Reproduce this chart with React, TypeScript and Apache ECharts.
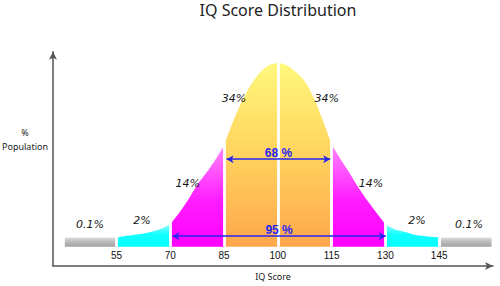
import React, { useEffect, useRef } from 'react';
import * as echarts from 'echarts';

const chartTitle = 'IQ Score Distribution';
const xAxisName = 'IQ Score';
const yAxisName = '%\nPopulation';

const xTicks = [55, 70, 85, 100, 115, 130, 145];

// Curve (relative height, peak = 100)
const curveX = [55, 57.5, 60, 62.5, 65, 67.5, 70, 72.5, 75, 77.5, 80, 82.5, 85, 87.5, 90, 92.5, 95, 97.5, 100,
  102.5, 105, 107.5, 110, 112.5, 115, 117.5, 120, 122.5, 125, 127.5, 130, 132.5, 135, 137.5, 140, 142.5, 145];
const curveY = [5.0, 5.8, 6.5, 7.2, 8.3, 9.7, 12.2, 18.5, 25.5, 33.5, 40, 47, 55, 68, 79, 88, 94.5, 98.6, 100,
  98.6, 95, 90, 81, 69, 55.5, 47.5, 40, 32, 25, 18.5, 12.2, 9.5, 8.2, 6.8, 5.9, 5.4, 5.0];

// Tails (0.1%) as flat bars
const tailLeft = [40.6, 55];
const tailRight = [145, 159.6];
const tailLevel = 5.0;

// Bands of the curve
const bandNames = ['cyanL', 'magentaL', 'orangeL', 'orangeR', 'magentaR', 'cyanR'];
const bandFrom = [55, 70, 85, 100, 115, 130];
const bandTo = [70, 85, 100, 115, 130, 145];

// Percent labels
const pctText = ['0.1%', '2%', '14%', '34%', '34%', '14%', '2%', '0.1%'];
const pctX = [47.6, 62.1, 74.9, 87.8, 113.6, 126.0, 138.8, 153.3];
const pctY = [11.9, 14.5, 34.6, 80.5, 80.5, 34.6, 14.5, 11.9];

// Range arrows
const rangeText = ['68 %', '95 %'];
const rangeFrom = [85.7, 70.6];
const rangeTo = [114.6, 130.1];
const rangeY = [47.6, 5.7];

const grad = (stops: [number, string][]) =>
  new echarts.graphic.LinearGradient(0, 0, 0, 1, stops.map(([offset, color]) => ({ offset, color })));

const bandColors: Record<string, [number, string][]> = {
  gray: [[0, '#e0e0e0'], [0.35, '#c2c2c2'], [1, '#a2a2a2']],
  cyan: [[0, '#8afcff'], [0.45, '#14ffff'], [1, '#00ffff']],
  magenta: [[0, '#ff86ff'], [0.55, '#ff1cff'], [1, '#ff00ff']],
  orange: [[0, '#fff87c'], [0.5, '#ffd35e'], [1, '#ffa64c']],
};

export default function App() {
  const ref = useRef<HTMLDivElement>(null);
  useEffect(() => {
    if (!ref.current) return;
    const chart = echarts.init(ref.current, undefined, { renderer: 'svg' });
    const pts = curveX.map((x, i) => [x, curveY[i]]);
    const areaSeries = (name: string, data: number[][], colorKey: string) => ({
      name,
      type: 'line',
      data,
      smooth: 0.35,
      showSymbol: false,
      symbol: 'none',
      silent: true,
      lineStyle: { width: 0, opacity: 0 },
      areaStyle: { color: grad(bandColors[colorKey]), opacity: 1 },
      z: 2,
    });
    const series: any[] = [];
    series.push(areaSeries('grayL', tailLeft.map((x) => [x, tailLevel]), 'gray'));
    series.push(areaSeries('grayR', tailRight.map((x) => [x, tailLevel]), 'gray'));
    bandNames.forEach((n, i) => {
      const data = pts.filter((p) => p[0] >= bandFrom[i] && p[0] <= bandTo[i]);
      series.push(areaSeries(n, data, n.replace(/[LR]$/, '')));
    });
    // white separators
    series.push({
      type: 'line',
      data: [],
      silent: true,
      z: 3,
      markLine: {
        silent: true,
        symbol: ['none', 'none'],
        label: { show: false },
        lineStyle: { color: '#ffffff', width: 2.8, type: 'solid' },
        data: xTicks.map((v) => [{ coord: [v, 0] }, { coord: [v, 104] }]),
      },
    });
    // range arrows
    series.push({
      type: 'line',
      data: [],
      silent: true,
      z: 4,
      markLine: {
        silent: true,
        symbol: ['arrow', 'arrow'],
        symbolSize: [6, 7],
        lineStyle: { color: '#2626f2', width: 1.5, type: 'solid' },
        label: {
          show: true,
          position: 'middle',
          formatter: '{b}',
          color: '#2626f2',
          fontFamily: 'Liberation Sans',
          fontWeight: 'bold',
          fontSize: 12,
          distance: 0,
        },
        data: rangeText.map((t, i) => [
          { name: t, coord: [rangeFrom[i], rangeY[i]] },
          { coord: [rangeTo[i], rangeY[i]] },
        ]),
      },
    });
    // percent labels
    series.push({
      type: 'scatter',
      silent: true,
      z: 5,
      symbolSize: 1,
      itemStyle: { color: '#ffffff', opacity: 0 },
      data: pctText.map((t, i) => ({ name: t, value: [pctX[i], pctY[i]] })),
      label: {
        show: true,
        position: 'inside',
        formatter: '{b}',
        color: '#161616',
        opacity: 1,
        textBorderWidth: 0,
        fontFamily: 'DejaVu Sans',
        fontStyle: 'italic',
        fontSize: 11,
      },
    });

    chart.setOption({
      animation: false,
      backgroundColor: '#ffffff',
      title: {
        text: chartTitle,
        left: 278,
        top: 2,
        padding: 0,
        textAlign: 'center',
        textStyle: { fontFamily: 'Noto Sans', fontWeight: 'normal', fontSize: 16, color: '#222' },
      },
      graphic: [
        {
          type: 'text',
          x: 25,
          y: 139,
          style: {
            text: yAxisName,
            align: 'center',
            verticalAlign: 'middle',
            fontFamily: 'Noto Sans',
            fontSize: 9,
            lineHeight: 14,
            fill: '#1a1a1a',
          },
        },
      ],
      grid: { left: 53, right: 7, top: 51.7, bottom: 13.5, containLabel: false },
      xAxis: {
        type: 'value',
        min: 37.3,
        max: 160,
        name: xAxisName,
        nameLocation: 'middle',
        nameGap: 3,
        nameTextStyle: { fontFamily: 'Noto Sans', fontSize: 9, color: '#222', verticalAlign: 'top' },
        axisLine: {
          show: true,
          onZero: false,
          symbol: ['none', 'arrow'],
          symbolSize: [6, 8],
          lineStyle: { color: '#555', width: 1.5 },
        },
        axisTick: { show: false },
        splitLine: { show: false },
        axisLabel: {
          show: true,
          inside: true,
          margin: 6,
          customValues: xTicks,
          color: '#111',
          fontFamily: 'Liberation Sans',
          fontSize: 10,
        },
      },
      yAxis: {
        type: 'value',
        min: -10.55,
        max: 106,
        axisLine: {
          show: true,
          onZero: false,
          symbol: ['none', 'arrow'],
          symbolSize: [6, 8],
          lineStyle: { color: '#555', width: 1.5 },
        },
        axisTick: { show: false },
        axisLabel: { show: false },
        splitLine: { show: false },
      },
      series,
    });
    return () => chart.dispose();
  }, []);
  return <div ref={ref} style={{ width: 500, height: 286, position: 'absolute', left: 0, top: 0 }} />;
}
